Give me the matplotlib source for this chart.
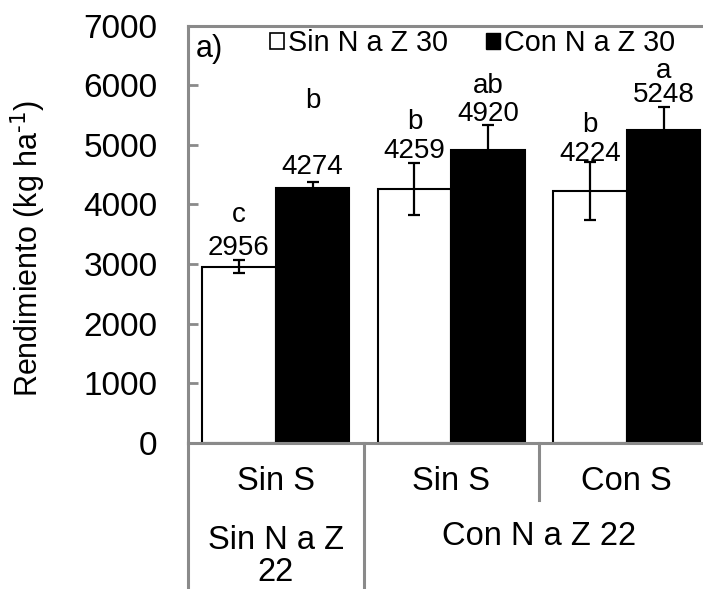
import numpy as np
import matplotlib
matplotlib.use("Agg")
import matplotlib.pyplot as plt
from matplotlib.patches import Patch

plt.rcParams["font.family"] = ["Liberation Sans", "DejaVu Sans"]
plt.rcParams["mathtext.default"] = "regular"

# Yield by treatment (kg/ha), two series per S group
groups = ["Sin S", "Sin S", "Con S"]
n22_groups = ["Sin N a Z\n22", "Con N a Z 22"]
series = ["Sin N a Z 30", "Con N a Z 30"]
sin_n30 = [2956, 4259, 4224]
con_n30 = [4274, 4920, 5248]
sin_n30_err = [105, 435, 480]
con_n30_err = [95, 420, 395]
sin_n30_letters = ["c", "b", "b"]
con_n30_letters = ["b", "ab", "a"]

# label offsets above the whisker tops (pixels)
sin_num_off = [-1, -1, -5]
con_num_off = [2, -2, -1]
sin_let_off = [45, 41, 37]
con_let_off = [81, 39, 36]

grey = "#8a8a8a"
fig = plt.figure(figsize=(7.03, 5.89), dpi=100)
ax = fig.add_axes([188 / 703, (589 - 442.7) / 589, 3 * 175.5 / 703, 417 / 589])

x = np.arange(len(groups))
w = 0.42
err_kw = dict(ecolor="black", elinewidth=1.6, capsize=4, capthick=1.6)
ax.bar(x - w / 2, sin_n30, w, color="white", edgecolor="black", linewidth=1.5,
       yerr=sin_n30_err, error_kw=err_kw, zorder=2)
ax.bar(x + w / 2, con_n30, w, color="black", edgecolor="black", linewidth=1.5,
       yerr=con_n30_err, error_kw=err_kw, zorder=2)

for xs, vals, errs, letters, noff, loff in [
        (x - w / 2, sin_n30, sin_n30_err, sin_n30_letters, sin_num_off, sin_let_off),
        (x + w / 2, con_n30, con_n30_err, con_n30_letters, con_num_off, con_let_off)]:
    for xi, v, e, let, no, lo in zip(xs, vals, errs, letters, noff, loff):
        ax.annotate(str(v), (xi, v + e), xytext=(0, no), textcoords="offset pixels",
                    ha="center", va="bottom", fontsize=20)
        ax.annotate(let, (xi, v + e), xytext=(0, lo), textcoords="offset pixels",
                    ha="center", va="center", fontsize=20)

ax.set_xlim(-0.5, 2.5)
ax.set_ylim(0, 7000)
ax.set_yticks(np.arange(0, 7001, 1000))
ax.tick_params(axis="y", direction="in", length=7, width=2, color=grey,
               labelsize=24, pad=22)
ax.set_xticks([])
for side in ["left", "top", "bottom"]:
    ax.spines[side].set_color(grey)
    ax.spines[side].set_linewidth(2.2)
ax.spines["right"].set_visible(False)

# category separators below the axis
trans = ax.get_xaxis_transform()
ax.plot([-0.5, -0.5], [0, -0.36], color=grey, lw=2.2, transform=trans, clip_on=False)
ax.plot([0.5, 0.5], [0, -0.36], color=grey, lw=2.2, transform=trans, clip_on=False)
ax.plot([1.5, 1.5], [0, -0.137], color=grey, lw=2.2, transform=trans, clip_on=False)

for xi, g in zip(x, groups):
    ax.text(xi, -0.094, g, transform=trans, ha="center", va="center", fontsize=23.5)
ax.text(0, -0.273, n22_groups[0], transform=trans, ha="center", va="center",
        fontsize=23.5, linespacing=1.02)
ax.text(1.5, -0.226, n22_groups[1], transform=trans, ha="center", va="center",
        fontsize=23.5)

ax.text(0.015, 0.945, "a)", transform=ax.transAxes, ha="left", va="center", fontsize=22)

handles = [Patch(facecolor="white", edgecolor="black", linewidth=1.2),
           Patch(facecolor="black", edgecolor="black")]
ax.legend(handles, series, loc="upper left", bbox_to_anchor=(0.155, 0.992), ncol=2,
          frameon=False, fontsize=20.7, handlelength=0.5, handleheight=0.5,
          handletextpad=0.15, columnspacing=1.3, borderpad=0, borderaxespad=0)

fig.text(28 / 703, (589 - 248) / 589, r"Rendimiento (kg ha$^{\text{-1}}$)", rotation=90,
         ha="center", va="center", fontsize=22)

fig.savefig("out.png", dpi=100)
